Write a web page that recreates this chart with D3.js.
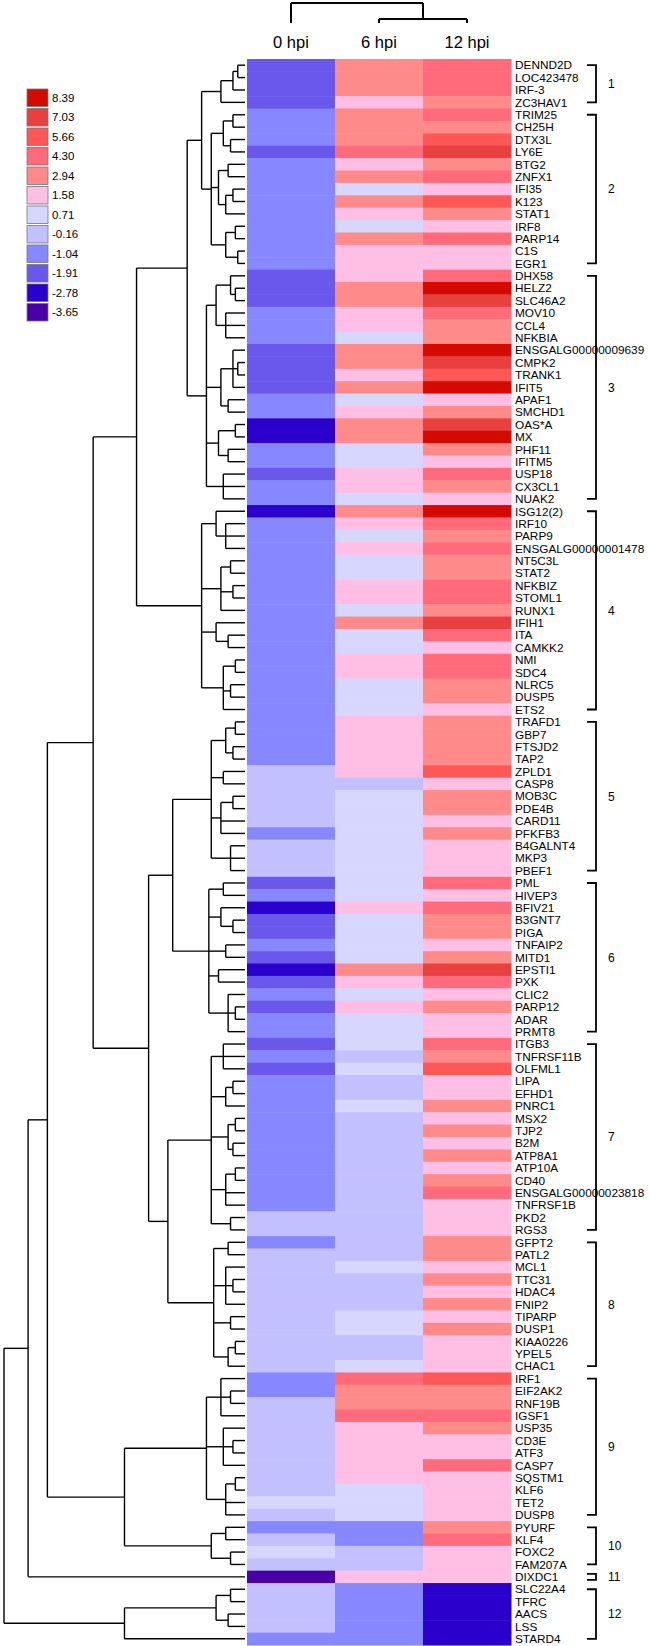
<!DOCTYPE html>
<html><head><meta charset="utf-8">
<script src="https://cdn.jsdelivr.net/npm/d3@7"></script>
<style>body{margin:0;background:#fff;} text{font-family:Arial,"Liberation Sans",sans-serif;fill:#000;}</style>
</head><body><svg id="chart" width="651" height="1646"></svg>
<script>
const genes = ["DENND2D","LOC423478","IRF-3","ZC3HAV1","TRIM25","CH25H","DTX3L","LY6E","BTG2","ZNFX1","IFI35","K123","STAT1","IRF8","PARP14","C1S","EGR1","DHX58","HELZ2","SLC46A2","MOV10","CCL4","NFKBIA","ENSGALG00000009639","CMPK2","TRANK1","IFIT5","APAF1","SMCHD1","OAS*A","MX","PHF11","IFITM5","USP18","CX3CL1","NUAK2","ISG12(2)","IRF10","PARP9","ENSGALG00000001478","NT5C3L","STAT2","NFKBIZ","STOML1","RUNX1","IFIH1","ITA","CAMKK2","NMI","SDC4","NLRC5","DUSP5","ETS2","TRAFD1","GBP7","FTSJD2","TAP2","ZPLD1","CASP8","MOB3C","PDE4B","CARD11","PFKFB3","B4GALNT4","MKP3","PBEF1","PML","HIVEP3","BFIV21","B3GNT7","PIGA","TNFAIP2","MITD1","EPSTI1","PXK","CLIC2","PARP12","ADAR","PRMT8","ITGB3","TNFRSF11B","OLFML1","LIPA","EFHD1","PNRC1","MSX2","TJP2","B2M","ATP8A1","ATP10A","CD40","ENSGALG00000023818","TNFRSF1B","PKD2","RGS3","GFPT2","PATL2","MCL1","TTC31","HDAC4","FNIP2","TIPARP","DUSP1","KIAA0226","YPEL5","CHAC1","IRF1","EIF2AK2","RNF19B","IGSF1","USP35","CD3E","ATF3","CASP7","SQSTM1","KLF6","TET2","DUSP8","PYURF","KLF4","FOXC2","FAM207A","DIXDC1","SLC22A4","TFRC","AACS","LSS","STARD4"];

const hpi0 = [-1.91,-1.91,-1.91,-1.91,-1.04,-1.04,-1.04,-1.91,-1.04,-1.04,-1.04,-1.04,-1.04,-1.04,-1.04,-1.04,-1.04,-1.91,-1.91,-1.91,-1.04,-1.04,-1.04,-1.91,-1.91,-1.91,-1.91,-1.04,-1.04,-2.78,-2.78,-1.04,-1.04,-1.91,-1.04,-1.04,-2.78,-1.04,-1.04,-1.04,-1.04,-1.04,-1.04,-1.04,-1.04,-1.04,-1.04,-1.04,-1.04,-1.04,-1.04,-1.04,-1.04,-1.04,-1.04,-1.04,-1.04,-0.16,-0.16,-0.16,-0.16,-0.16,-1.04,-0.16,-0.16,-0.16,-1.91,-1.04,-2.78,-1.91,-1.91,-1.04,-1.91,-2.78,-1.91,-1.04,-1.91,-1.04,-1.04,-1.91,-1.04,-1.91,-1.04,-1.04,-1.04,-1.04,-1.04,-1.04,-1.04,-1.04,-1.04,-1.04,-1.04,-0.16,-0.16,-1.04,-0.16,-0.16,-0.16,-0.16,-0.16,-0.16,-0.16,-0.16,-0.16,-0.16,-1.04,-1.04,-0.16,-0.16,-0.16,-0.16,-0.16,-0.16,-0.16,-0.16,0.71,-0.16,-1.04,-0.16,0.71,-0.16,-3.65,-0.16,-0.16,-0.16,-0.16,-1.04];
const hpi6 = [2.94,2.94,2.94,1.58,2.94,2.94,2.94,4.30,1.58,2.94,0.71,2.94,1.58,0.71,2.94,1.58,1.58,1.58,2.94,2.94,1.58,1.58,0.71,2.94,2.94,1.58,2.94,0.71,1.58,2.94,2.94,0.71,0.71,1.58,1.58,0.71,2.94,1.58,0.71,1.58,0.71,0.71,1.58,1.58,0.71,2.94,0.71,0.71,1.58,1.58,0.71,0.71,0.71,1.58,1.58,1.58,1.58,1.58,-0.16,0.71,0.71,0.71,0.71,0.71,0.71,0.71,0.71,0.71,1.58,0.71,0.71,0.71,0.71,2.94,1.58,0.71,1.58,0.71,0.71,0.71,-0.16,0.71,-0.16,-0.16,0.71,-0.16,-0.16,-0.16,-0.16,-0.16,-0.16,-0.16,-0.16,-0.16,-0.16,-0.16,-0.16,0.71,-0.16,-0.16,-0.16,0.71,0.71,-0.16,-0.16,0.71,4.30,2.94,2.94,4.30,1.58,1.58,1.58,1.58,1.58,0.71,0.71,0.71,-1.04,-1.04,-0.16,-0.16,1.58,-1.04,-1.04,-1.04,-1.04,-1.04];
const hpi12 = [4.30,4.30,4.30,2.94,4.30,2.94,5.66,7.03,2.94,4.30,1.58,5.66,2.94,1.58,4.30,1.58,1.58,4.30,8.39,7.03,4.30,2.94,2.94,8.39,7.03,5.66,8.39,1.58,2.94,7.03,8.39,2.94,1.58,4.30,2.94,1.58,8.39,4.30,2.94,4.30,2.94,2.94,4.30,4.30,2.94,7.03,4.30,1.58,4.30,4.30,2.94,2.94,1.58,2.94,2.94,2.94,2.94,5.66,1.58,2.94,2.94,1.58,2.94,1.58,1.58,1.58,4.30,1.58,4.30,2.94,2.94,1.58,2.94,7.03,4.30,1.58,2.94,1.58,1.58,4.30,2.94,5.66,1.58,1.58,2.94,1.58,2.94,1.58,2.94,1.58,2.94,4.30,1.58,1.58,1.58,2.94,2.94,1.58,2.94,1.58,2.94,1.58,2.94,1.58,1.58,1.58,5.66,2.94,2.94,4.30,2.94,1.58,1.58,4.30,1.58,1.58,1.58,1.58,2.94,4.30,1.58,1.58,1.58,-2.78,-2.78,-2.78,-2.78,-2.78];

const timepoints = ["0 hpi","6 hpi","12 hpi"];
const legendValues = [8.39,7.03,5.66,4.30,2.94,1.58,0.71,-0.16,-1.04,-1.91,-2.78,-3.65];
const legendColors = ["#d40a00","#e8403f","#ff5656","#ff6b7b","#ff8a8a","#ffbee3","#d6d6ff","#c3c0ff","#8787ff","#6a58ec","#2a00cc","#4a00a6"];
const clusterNames = ["1","2","3","4","5","6","7","8","9","10","11","12"];
const clusterFirst = [0,4,17,36,53,66,79,95,106,118,122,123];
const clusterLast  = [3,16,35,52,65,78,94,105,117,121,122,127];

// row dendrogram: [height, child, child, ...]; leaves are row indices
const C1 = [10,[5,[3,0,1],2],3];
const C2 = [14,[9,[5,4,5],[6,6,7]],[11,[7,8,9],[8,[5,10,11],12]],[8,[4,13,14],[3,15,16]]];
const C3 = [16,[12,[6,17,[4,18,19]],[8,20,21,22]],[10,[5,23,[3,24,25],26],[7,27,28]],[11,[4,29,30],[7,31,32]],[9,33,34,35]];
const C4 = [18,[12,36,[8,37,38,39]],[10,[6,40,41],[5,42,43],44],[12,45,[7,46,47]],[9,[4,48,49],[6,50,51],52]];
const C5 = [14,[8,[4,53,54],[5,55,56]],[9,57,58],[10,[5,59,60],61,62],[6,63,64,65]];
const C6 = [15,[9,66,67],[10,68,[5,69,70]],[8,71,72],[11,73,74],[7,75,[4,76,77],78]];
const C7 = [14,[9,79,80,81],[8,[5,82,83],84],[7,[4,85,86],[5,87,88]],[8,[4,89,90],91,92],[6,93,94]];
const C8 = [13,[7,95,96],[8,97,[5,98,99],100],[6,101,102],[7,[4,103,104],105]];
const C9 = [16,[10,106,[6,107,108],109],[9,110,[5,111,112],113],[8,[4,114,115],116,117]];
const C10 = [14,[8,118,119],[6,120,121]];
const C12 = [50,[12,[6,123,124],[7,125,126]],127];
const U1 = [24,[18,C1,C2],C3];
const U2 = [45,U1,C4];
const U3 = [63,U2,[40,[30,C5,C6],[32,C7,C8]]];
const U4 = [82,U3,[50,C9,C10]];
const U5 = [90,U4,122];
const rowTree = [100,U5,C12];

const colTree = [1,0,[0.2,1,2]];

const svg = d3.select("#chart");
const x = d3.scaleBand().domain(timepoints).range([247,511]);
const y = d3.scaleBand().domain(d3.range(genes.length)).range([59,1645]);
const yc = i => y(i) + y.bandwidth()/2;
const color = d3.scaleThreshold()
  .domain(d3.pairs(legendValues.slice().reverse()).map(p => (p[0]+p[1])/2))
  .range(legendColors.slice().reverse());

// heatmap
const series = [hpi0, hpi6, hpi12];
const cells = [];
series.forEach((s,j) => s.forEach((v,i) => cells.push({i, t: timepoints[j], v})));
svg.append("g").selectAll("rect").data(cells).join("rect")
  .attr("x", d => x(d.t)).attr("y", d => y(d.i))
  .attr("width", x.bandwidth()+0.5).attr("height", y.bandwidth()+0.5)
  .attr("fill", d => color(d.v));

// column labels
svg.append("g").selectAll("text").data(timepoints).join("text")
  .attr("x", d => x(d)+x.bandwidth()/2).attr("y", 48)
  .attr("text-anchor","middle").attr("font-size","16.5px").text(d => d);

// column dendrogram
const hy = d3.scaleLinear().domain([0,1]).range([23,3]);
function colLayout(n){
  if (typeof n === "number") return {x: x(timepoints[n]) + x.bandwidth()/2, h: 0};
  const kids = n.slice(1).map(colLayout);
  return {x: (kids[0].x + kids[kids.length-1].x)/2, h: n[0], kids};
}
const colRoot = colLayout(colTree);
const colPaths = [];
(function walk(n){ if(!n.kids) return; n.kids.forEach(k => { colPaths.push(`M${k.x},${hy(k.h)}V${hy(n.h)}`); walk(k); });
  colPaths.push(`M${n.kids[0].x},${hy(n.h)}H${n.kids[n.kids.length-1].x}`); })(colRoot);
svg.append("g").selectAll("path").data(colPaths).join("path").attr("d", d => d)
  .attr("fill","none").attr("stroke","#000").attr("stroke-width",2);

// row dendrogram
const hx = d3.scaleLinear().domain([0,100]).range([245,4]);
function rowLayout(n){
  if (typeof n === "number") return {y: yc(n), h: 0};
  const kids = n.slice(1).map(rowLayout);
  return {y: (kids[0].y + kids[kids.length-1].y)/2, h: n[0], kids};
}
const rowRoot = rowLayout(rowTree);
const rowPaths = [];
(function walk(n){ if(!n.kids) return;
  rowPaths.push(`M${hx(n.h)},${n.kids[0].y}V${n.kids[n.kids.length-1].y}`);
  n.kids.forEach(k => { rowPaths.push(`M${hx(n.h)},${k.y}H${hx(k.h)}`); walk(k); }); })(rowRoot);
svg.append("g").selectAll("path").data(rowPaths).join("path").attr("d", d => d)
  .attr("fill","none").attr("stroke","#000").attr("stroke-width",1.4);

// gene labels
svg.append("g").selectAll("text").data(genes).join("text")
  .attr("x", 515).attr("y", (d,i) => yc(i)).attr("dy","0.36em")
  .attr("font-size","11.8px").text(d => d);

// cluster brackets
const cl = clusterNames.map((n,k) => {
  const single = clusterFirst[k] === clusterLast[k];
  const t = single ? yc(clusterFirst[k]) - 3 : yc(clusterFirst[k]);
  const b = single ? yc(clusterLast[k]) + 3 : yc(clusterLast[k]);
  return {n, t, b};
});
const cg = svg.append("g");
cg.selectAll("path").data(cl).join("path")
  .attr("d", d => `M587,${d.t}H596V${d.b}H587`)
  .attr("fill","none").attr("stroke","#000").attr("stroke-width",1.8);
cg.selectAll("text").data(cl).join("text")
  .attr("x", 608).attr("y", d => (d.t+d.b)/2).attr("dy","0.36em")
  .attr("font-size","12px").text(d => d.n);

// legend
const lg = svg.append("g");
const ly = d3.scaleBand().domain(legendValues).range([89, 89 + 19.5*legendValues.length]);
lg.selectAll("rect").data(legendValues).join("rect")
  .attr("x", 27).attr("y", d => ly(d)).attr("width", 21).attr("height", 17.5)
  .attr("fill", d => color(d)).attr("stroke","#777").attr("stroke-width",0.8);
lg.selectAll("text").data(legendValues).join("text")
  .attr("x", 52).attr("y", d => ly(d) + 8.8).attr("dy","0.36em")
  .attr("font-size","11.5px").text(d => d.toFixed(2));
</script></body></html>
